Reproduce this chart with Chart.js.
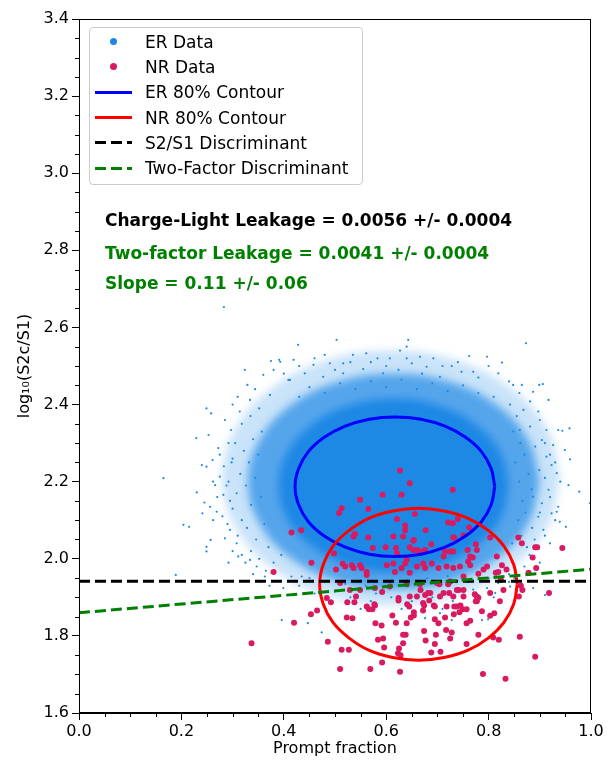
<!DOCTYPE html>
<html>
<head>
<meta charset="utf-8">
<script src="https://cdn.jsdelivr.net/npm/chart.js@4.4.1/dist/chart.umd.min.js"></script>
<style>
  html, body { margin: 0; padding: 0; background: #fff; }
  #wrap { position: relative; width: 613px; height: 765px; font-family: "DejaVu Sans", sans-serif; }
  #legend {
    position: absolute; left: 89px; top: 27px; width: 272px;
    padding: 1px 0 3px 0; border: 1px solid #ccc; border-radius: 4px;
    background: rgba(255, 255, 255, 0.8);
  }
  .row { height: 25.3px; display: flex; align-items: center; font-size: 17px; color: #000; white-space: nowrap; }
  .mk { position: relative; flex: none; width: 37px; height: 100%; margin-left: 5px; margin-right: 13px; }
  .dot { position: absolute; left: 14.5px; top: 50%; width: 7px; height: 7px; margin-top: -3.5px; border-radius: 50%; }
  .solid, .dash { position: absolute; left: 0; right: 0; top: 50%; height: 3px; margin-top: -1.5px; }
  .dash { background: repeating-linear-gradient(to right, var(--c) 0 11px, transparent 11px 16px); }
  .note { position: absolute; left: 105px; font: bold 17px/20px "DejaVu Sans", sans-serif; white-space: nowrap; }
</style>
</head>
<body>
<div id="wrap">
  <canvas id="chart" width="613" height="765"></canvas>
  <div id="legend">
    <div class="row"><span class="mk"><i class="dot" style="background:#1E88E5"></i></span>ER Data</div>
    <div class="row"><span class="mk"><i class="dot" style="background:#D81B60"></i></span>NR Data</div>
    <div class="row"><span class="mk"><i class="solid" style="background:#0000ff"></i></span>ER 80% Contour</div>
    <div class="row"><span class="mk"><i class="solid" style="background:#ff0000"></i></span>NR 80% Contour</div>
    <div class="row"><span class="mk"><i class="dash" style="--c:#000"></i></span>S2/S1 Discriminant</div>
    <div class="row"><span class="mk"><i class="dash" style="--c:#008000"></i></span>Two-Factor Discriminant</div>
  </div>
  <div class="note" style="top:210px;color:#000">Charge-Light Leakage = 0.0056 +/- 0.0004</div>
  <div class="note" style="top:243px;color:#008000">Two-factor Leakage = 0.0041 +/- 0.0004</div>
  <div class="note" style="top:273px;color:#008000">Slope = 0.11 +/- 0.06</div>
</div>
<script>
// axis ticks
const xTicks = [0.0, 0.2, 0.4, 0.6, 0.8, 1.0];
const yTicks = [1.6, 1.8, 2.0, 2.2, 2.4, 2.6, 2.8, 3.0, 3.2, 3.4];

// ER cloud: the saturated core and the two density bands round it (outlines)
const erCore = [[0.840,2.190],[0.823,2.276],[0.774,2.349],[0.701,2.398],[0.615,2.415],[0.529,2.398],[0.456,2.349],[0.407,2.276],
  [0.390,2.190],[0.407,2.104],[0.456,2.031],[0.529,1.982],[0.615,1.965],[0.701,1.982],[0.774,2.031],[0.823,2.104],[0.840,2.190]];
const erMid = [[0.900,2.200],[0.878,2.307],[0.817,2.398],[0.724,2.459],[0.615,2.480],[0.506,2.459],[0.413,2.398],[0.352,2.307],
  [0.330,2.200],[0.352,2.093],[0.413,2.002],[0.506,1.941],[0.615,1.920],[0.724,1.941],[0.817,2.002],[0.878,2.093],[0.900,2.200]];
const erOuter = [[0.940,2.210],[0.915,2.336],[0.843,2.443],[0.736,2.515],[0.610,2.540],[0.484,2.515],[0.377,2.443],[0.305,2.336],
  [0.280,2.210],[0.305,2.084],[0.377,1.977],[0.484,1.905],[0.610,1.880],[0.736,1.905],[0.843,1.977],[0.915,2.084],[0.940,2.210]];

// ER single events outside the saturated core
const erPoints = [
  [0.375,2.513],[0.391,2.516],[0.324,2.490],[0.360,2.477],[0.329,2.451],[0.344,2.440],[0.409,2.464],[0.373,2.425],[0.249,2.390],[0.258,2.377],
  [0.334,2.412],[0.314,2.382],[0.297,2.334],[0.229,2.313],[0.253,2.321],[0.272,2.287],[0.261,2.256],[0.240,2.243],[0.165,2.209],[0.249,2.239],
  [0.275,2.213],[0.230,2.172],[0.266,2.191],[0.282,2.166],[0.245,2.146],[0.256,2.135],[0.241,2.118],[0.269,2.122],[0.204,2.088],[0.215,2.083],
  [0.257,2.049],[0.285,2.053],[0.249,2.031],[0.249,2.019],[0.292,1.990],[0.189,1.958],[0.311,2.006],[0.334,1.997],[0.347,1.980],[0.363,1.954],
  [0.295,2.075],[0.308,2.040],
  [0.873,2.559],[0.797,2.524],[0.826,2.509],[0.819,2.481],[0.848,2.451],[0.865,2.451],[0.899,2.451],[0.906,2.453],[0.887,2.433],[0.917,2.412],
  [0.881,2.408],[0.868,2.386],[0.897,2.382],[0.936,2.334],[0.944,2.332],[0.958,2.338],[0.881,2.343],[0.913,2.334],[0.904,2.308],[0.926,2.295],
  [0.949,2.282],[0.959,2.258],[0.923,2.243],[0.933,2.222],[0.956,2.191],[0.977,2.174],[0.917,2.179],[0.904,2.144],[0.936,2.135],[0.923,2.118],
  [0.939,2.096],[0.951,2.083],[0.933,2.122],[0.907,2.075],[0.998,2.144],[0.897,2.109],[0.887,2.161],[0.913,2.265],[0.899,2.230],[0.891,2.291],
  [0.861,2.334],
  [0.428,2.555],[0.503,2.568],[0.643,2.568],[0.640,2.550],[0.627,2.540],[0.535,2.529],[0.480,2.529],[0.561,2.533],[0.583,2.520],[0.607,2.520],
  [0.666,2.524],[0.692,2.520],[0.762,2.526],[0.419,2.516],[0.458,2.503],[0.490,2.507],[0.516,2.507],[0.650,2.507],[0.679,2.498],[0.728,2.500],
  [0.747,2.485],[0.412,2.464],[0.441,2.481],[0.477,2.472],[0.516,2.481],[0.555,2.492],[0.594,2.481],[0.624,2.490],[0.705,2.472],[0.770,2.485],
  [0.393,2.511],[0.283,2.653],
  [0.396,1.841],[0.447,1.833],[0.474,1.809],[0.399,1.924],[0.415,1.954],[0.435,1.954],[0.365,1.969],[0.910,1.906],[0.887,1.924],[0.705,1.859],
  [0.728,1.841],[0.787,1.841],[0.799,1.843],[0.676,1.846],[0.829,1.919],[0.842,1.928],[0.797,1.924],[0.813,1.911],[0.819,1.937],
  [0.318,2.350],[0.335,2.370],[0.352,2.390],[0.305,2.300],[0.322,2.280],[0.340,2.310],[0.357,2.330],[0.298,2.250],[0.315,2.220],[0.332,2.250],
  [0.350,2.270],[0.292,2.200],[0.308,2.170],[0.326,2.190],[0.344,2.210],[0.300,2.130],[0.318,2.100],[0.336,2.140],[0.355,2.160],[0.310,2.060],
  [0.328,2.080],[0.346,2.050],[0.362,2.090],[0.336,2.020],[0.352,2.000],[0.370,2.030],[0.380,1.990],[0.395,2.010],
  [0.842,2.400],[0.855,2.370],[0.848,2.330],[0.862,2.300],[0.870,2.270],[0.852,2.250],[0.878,2.220],[0.860,2.200],[0.884,2.180],[0.866,2.150],
  [0.872,2.120],[0.858,2.100],[0.885,2.080],[0.864,2.060],[0.846,2.040],[0.875,2.030],
  [0.450,2.445],[0.480,2.430],[0.510,2.455],[0.540,2.440],[0.570,2.460],[0.600,2.445],[0.630,2.465],[0.660,2.440],[0.690,2.455],[0.720,2.435],
  [0.750,2.450],[0.780,2.430],[0.810,2.420],[0.430,2.420],
  [0.450,1.950],[0.480,1.940],[0.520,1.935],[0.560,1.930],[0.600,1.940],[0.640,1.945],[0.680,1.950],[0.720,1.955],[0.760,1.940],[0.800,1.950],
  [0.840,1.960],[0.500,1.915],[0.580,1.910],[0.660,1.905],[0.740,1.915],
  [0.300,2.400],[0.285,2.360],[0.310,2.420],[0.292,2.300],[0.275,2.270],[0.300,2.260],[0.283,2.240],[0.262,2.200],[0.288,2.190],[0.270,2.160],
  [0.295,2.150],[0.280,2.110],[0.262,2.100],[0.290,2.090],[0.300,2.020],[0.318,2.010],[0.325,1.990],[0.340,1.960],[0.355,1.940],[0.372,1.930],
  [0.380,2.490],[0.400,2.480],[0.430,2.500],[0.460,2.520],[0.500,2.490],[0.530,2.510],[0.570,2.510],[0.600,2.500],[0.640,2.520],[0.670,2.480],
  [0.710,2.500],[0.740,2.510],[0.780,2.470],[0.800,2.500],[0.840,2.460],[0.860,2.430],
  [0.900,2.360],[0.910,2.300],[0.920,2.270],[0.930,2.250],[0.910,2.210],[0.940,2.200],[0.920,2.160],[0.900,2.120],[0.930,2.100],[0.910,2.060],
  [0.890,2.050],[0.920,2.040],[0.880,2.010],[0.900,1.990],[0.870,1.980],[0.850,1.950],
  [0.430,1.930],[0.460,1.910],[0.490,1.890],[0.530,1.900],[0.570,1.890],[0.610,1.900],[0.650,1.890],[0.690,1.900],[0.730,1.890],[0.770,1.920],
  [0.810,1.900],[0.840,1.940],[0.550,1.870],[0.630,1.870],[0.710,1.870]
];

// NR events
const nrPoints = [
  [0.380,1.966],[0.420,1.834],[0.453,1.856],[0.465,1.866],[0.337,1.781],[0.486,1.785],[0.513,1.764],[0.527,1.764],[0.510,1.714],[0.569,1.714],
  [0.592,1.731],[0.627,1.707],[0.523,1.848],[0.534,1.846],[0.524,1.887],[0.538,1.887],[0.492,1.887],[0.484,1.898],[0.541,1.902],[0.566,1.869],
  [0.577,1.882],[0.573,1.869],[0.579,1.833],[0.591,1.827],[0.584,1.790],[0.594,1.793],[0.596,1.770],[0.612,1.853],[0.619,1.834],[0.640,1.833],
  [0.633,1.803],[0.638,1.803],[0.633,1.781],[0.625,1.767],[0.623,1.755],[0.628,1.750],[0.592,1.914],[0.624,1.892],[0.645,1.876],[0.654,1.861],
  [0.641,1.882],[0.648,1.848],
  [0.918,1.911],[0.861,1.798],[0.891,1.746],[0.789,1.701],[0.833,1.689],[0.820,1.790],[0.809,1.796],[0.780,1.803],[0.757,1.779],[0.706,1.759],
  [0.688,1.757],[0.695,1.779],[0.677,1.788],[0.674,1.813],[0.725,1.793],[0.728,1.809],[0.717,1.815],[0.697,1.803],[0.757,1.833],[0.764,1.839],
  [0.787,1.864],[0.803,1.852],[0.811,1.859],[0.822,1.890],[0.775,1.890],[0.780,1.899],[0.751,1.902],[0.751,1.919],[0.742,1.919],[0.731,1.902],
  [0.733,1.876],[0.732,1.856],[0.743,1.861],[0.749,1.869],[0.757,1.869],[0.745,1.879],[0.718,1.876],[0.715,1.848],[0.695,1.843],[0.702,1.833],
  [0.674,1.879],[0.672,1.866],[0.654,1.853],[0.660,1.902],[0.676,1.906],[0.684,1.892],[0.693,1.879],[0.682,1.911],[0.705,1.902],[0.712,1.911],
  [0.723,1.911],[0.704,1.934],[0.721,1.934],[0.667,1.919],[0.866,1.919],[0.859,1.902],[0.863,1.930],[0.878,1.964],[0.824,1.945],[0.780,1.961],
  [0.814,1.964],[0.773,1.908],
  [0.730,2.179],[0.646,2.196],[0.656,2.116],[0.677,2.074],[0.721,2.094],[0.730,2.092],[0.740,2.103],[0.762,2.081],[0.751,2.061],[0.731,2.055],
  [0.775,2.038],[0.759,2.023],[0.731,2.019],[0.715,2.019],[0.688,2.038],[0.654,2.049],[0.653,2.023],[0.669,2.019],[0.676,2.023],[0.769,2.003],
  [0.764,1.983],[0.744,1.980],[0.718,1.980],[0.676,1.976],[0.660,1.980],[0.777,2.023],[0.803,2.055],[0.816,2.006],[0.858,2.055],[0.865,2.040],
  [0.891,2.030],[0.895,2.030],[0.886,2.003],[0.893,1.976],[0.944,2.028],[0.819,1.966],[0.797,1.980],
  [0.627,2.229],[0.593,2.166],[0.630,2.166],[0.549,2.153],[0.565,2.129],[0.508,2.119],[0.513,2.131],[0.415,2.068],[0.434,2.074],[0.621,2.103],
  [0.637,2.086],[0.637,2.074],[0.614,2.058],[0.633,2.058],[0.565,2.055],[0.539,2.064],[0.536,2.058],[0.653,2.047],[0.599,2.030],[0.619,2.028],
  [0.574,2.028],[0.646,2.030],[0.454,1.990],[0.498,2.014],[0.515,1.987],[0.520,1.980],[0.536,1.976],[0.552,1.976],[0.562,1.966],[0.601,1.983],
  [0.614,1.988],[0.617,1.966],[0.637,1.988],[0.502,1.972],
  [0.533,1.983],[0.549,1.983],[0.562,1.958],[0.630,1.976],[0.646,1.964],[0.672,1.988],[0.689,1.988],[0.702,1.976],[0.731,1.976],[0.760,1.993],
  [0.790,1.972],[0.835,1.972],[0.751,1.954],[0.725,1.941],[0.699,1.937],[0.666,1.934],[0.640,1.934],[0.607,1.928],[0.578,1.924],[0.549,1.919],
  [0.529,1.919],[0.510,1.937],[0.660,2.023],[0.712,2.006],[0.725,2.019],[0.764,2.006],[0.640,1.997],[0.621,2.014],[0.646,1.902],[0.624,1.898],
  [0.686,1.911],[0.738,1.919],[0.777,1.902],[0.803,1.911],[0.829,1.919],[0.578,1.879],[0.562,1.876],[0.672,1.885],[0.695,1.876],[0.738,1.876],
  [0.777,1.890],[0.733,2.055],[0.826,1.983]
];

// 80% contours, read round the drawn ellipses
const erContour = [[0.812,2.187],[0.805,2.234],[0.786,2.278],[0.755,2.315],[0.715,2.344],[0.668,2.362],[0.617,2.368],[0.567,2.362],
  [0.520,2.344],[0.479,2.315],[0.448,2.278],[0.429,2.234],[0.422,2.187],[0.429,2.140],[0.448,2.096],[0.479,2.059],[0.520,2.030],
  [0.567,2.012],[0.617,2.006],[0.668,2.012],[0.715,2.030],[0.755,2.059],[0.786,2.096],[0.805,2.140],[0.812,2.187]];
const nrContour = [[0.856,1.934],[0.849,1.985],[0.830,2.033],[0.800,2.073],[0.760,2.105],[0.713,2.124],[0.663,2.131],[0.613,2.124],
  [0.566,2.105],[0.527,2.073],[0.496,2.033],[0.477,1.985],[0.470,1.934],[0.477,1.883],[0.496,1.835],[0.527,1.795],[0.566,1.763],
  [0.613,1.744],[0.663,1.737],[0.713,1.744],[0.760,1.763],[0.800,1.795],[0.830,1.835],[0.849,1.883],[0.856,1.934]];

// discriminant cuts
const s2s1Cut = [[0.0,1.942],[1.0,1.942]];
const twoFactorCut = [[0.0,1.860],[1.0,1.973]];

const ER_COLOR = "#1E88E5";
const NR_COLOR = "#D81B60";
const CORE_INDEX = 8;

const toXY = (pts) => pts.map(([x, y]) => ({ x, y }));

function band(data, color, order) {
  return {
    type: "line", data: toXY(data), order,
    borderColor: "transparent", borderWidth: 0, backgroundColor: color,
    pointRadius: 0, tension: 0.4, fill: "shape",
  };
}

function curve(data, color, order, dash) {
  return {
    type: "line", data: toXY(data), order,
    borderColor: color, borderWidth: 3, borderDash: dash || [],
    pointRadius: 0, tension: dash ? 0 : 0.4, fill: false,
  };
}

// softens the edges of the density bands (they are drawn first, core last)
const bandBlur = {
  id: "bandBlur",
  beforeDatasetsDraw(chart) {
    chart.ctx.save();
    chart.ctx.filter = "blur(4px)";
  },
  afterDatasetDraw(chart, args) {
    if (args.index === CORE_INDEX) chart.ctx.restore();
  },
};

// top/right spines and minor ticks
const framePlugin = {
  id: "frame",
  afterDraw(chart) {
    const { ctx, chartArea: a, scales: { x, y } } = chart;
    ctx.save();
    ctx.strokeStyle = "#000";
    ctx.lineWidth = 1;
    ctx.strokeRect(Math.round(a.left) + 0.5, Math.round(a.top) + 0.5, Math.round(a.right - a.left) - 1, Math.round(a.bottom - a.top) - 1);
    ctx.beginPath();
    for (let i = 1; i < 20; i++) {
      if (i % 4 === 0) continue;
      const px = Math.round(x.getPixelForValue(i * 0.05)) + 0.5;
      ctx.moveTo(px, a.bottom);
      ctx.lineTo(px, a.bottom + 4);
    }
    for (let i = 1; i < 36; i++) {
      if (i % 4 === 0) continue;
      const py = Math.round(y.getPixelForValue(1.6 + i * 0.05)) + 0.5;
      ctx.moveTo(a.left, py);
      ctx.lineTo(a.left - 4, py);
    }
    ctx.stroke();
    ctx.restore();
  },
};

Chart.defaults.font.family = "'DejaVu Sans', sans-serif";
Chart.defaults.color = "#000";

const tickFont = { size: 16 };

new Chart(document.getElementById("chart"), {
  type: "scatter",
  data: {
    datasets: [
      { label: "ER Data", data: toXY(erPoints), order: 5, pointRadius: 1.1, pointBorderWidth: 0, backgroundColor: ER_COLOR },
      { label: "NR Data", data: toXY(nrPoints), order: 4, pointRadius: 3, pointBorderWidth: 0, backgroundColor: NR_COLOR },
      { label: "ER 80% Contour", ...curve(erContour, "#0000ff", 3) },
      { label: "NR 80% Contour", ...curve(nrContour, "#ff0000", 2) },
      { label: "S2/S1 Discriminant", ...curve(s2s1Cut, "#000000", 1, [11, 5]) },
      { label: "Two-Factor Discriminant", ...curve(twoFactorCut, "#008000", 0, [11, 5]) },
      band(erOuter, "rgba(30,136,229,0.24)", 9),
      band(erMid, "rgba(30,136,229,0.68)", 8),
      band(erCore, ER_COLOR, 7),
    ],
  },
  options: {
    responsive: false,
    animation: false,
    devicePixelRatio: 1,
    layout: { padding: { top: 19, right: 22, left: 0, bottom: 0 } },
    plugins: { legend: { display: false }, tooltip: { enabled: false } },
    scales: {
      x: {
        type: "linear", min: 0, max: 1,
        afterBuildTicks: (s) => { s.ticks = xTicks.map((v) => ({ value: v })); },
        afterFit: (s) => { s.height = 52; },
        ticks: { callback: (v) => Number(v).toFixed(1), font: tickFont, padding: 2, maxRotation: 0, autoSkip: false },
        grid: { drawOnChartArea: false, drawTicks: true, tickLength: 7, tickColor: "#000", tickWidth: 1 },
        border: { display: true, color: "#000", width: 1 },
        title: { display: true, text: "Prompt fraction", font: { size: 16 }, padding: { top: 0, bottom: 7 } },
      },
      y: {
        type: "linear", min: 1.6, max: 3.4,
        afterBuildTicks: (s) => { s.ticks = yTicks.map((v) => ({ value: v })); },
        afterFit: (s) => { s.width = 79; },
        ticks: { callback: (v) => Number(v).toFixed(1), font: tickFont, padding: 3, autoSkip: false },
        grid: { drawOnChartArea: false, drawTicks: true, tickLength: 7, tickColor: "#000", tickWidth: 1 },
        border: { display: true, color: "#000", width: 1 },
        title: { display: true, text: "log\u2081\u2080(S2c/S1)", font: { size: 16 }, padding: { top: 15, bottom: 0 } },
      },
    },
  },
  plugins: [bandBlur, framePlugin],
});
</script>
</body>
</html>
